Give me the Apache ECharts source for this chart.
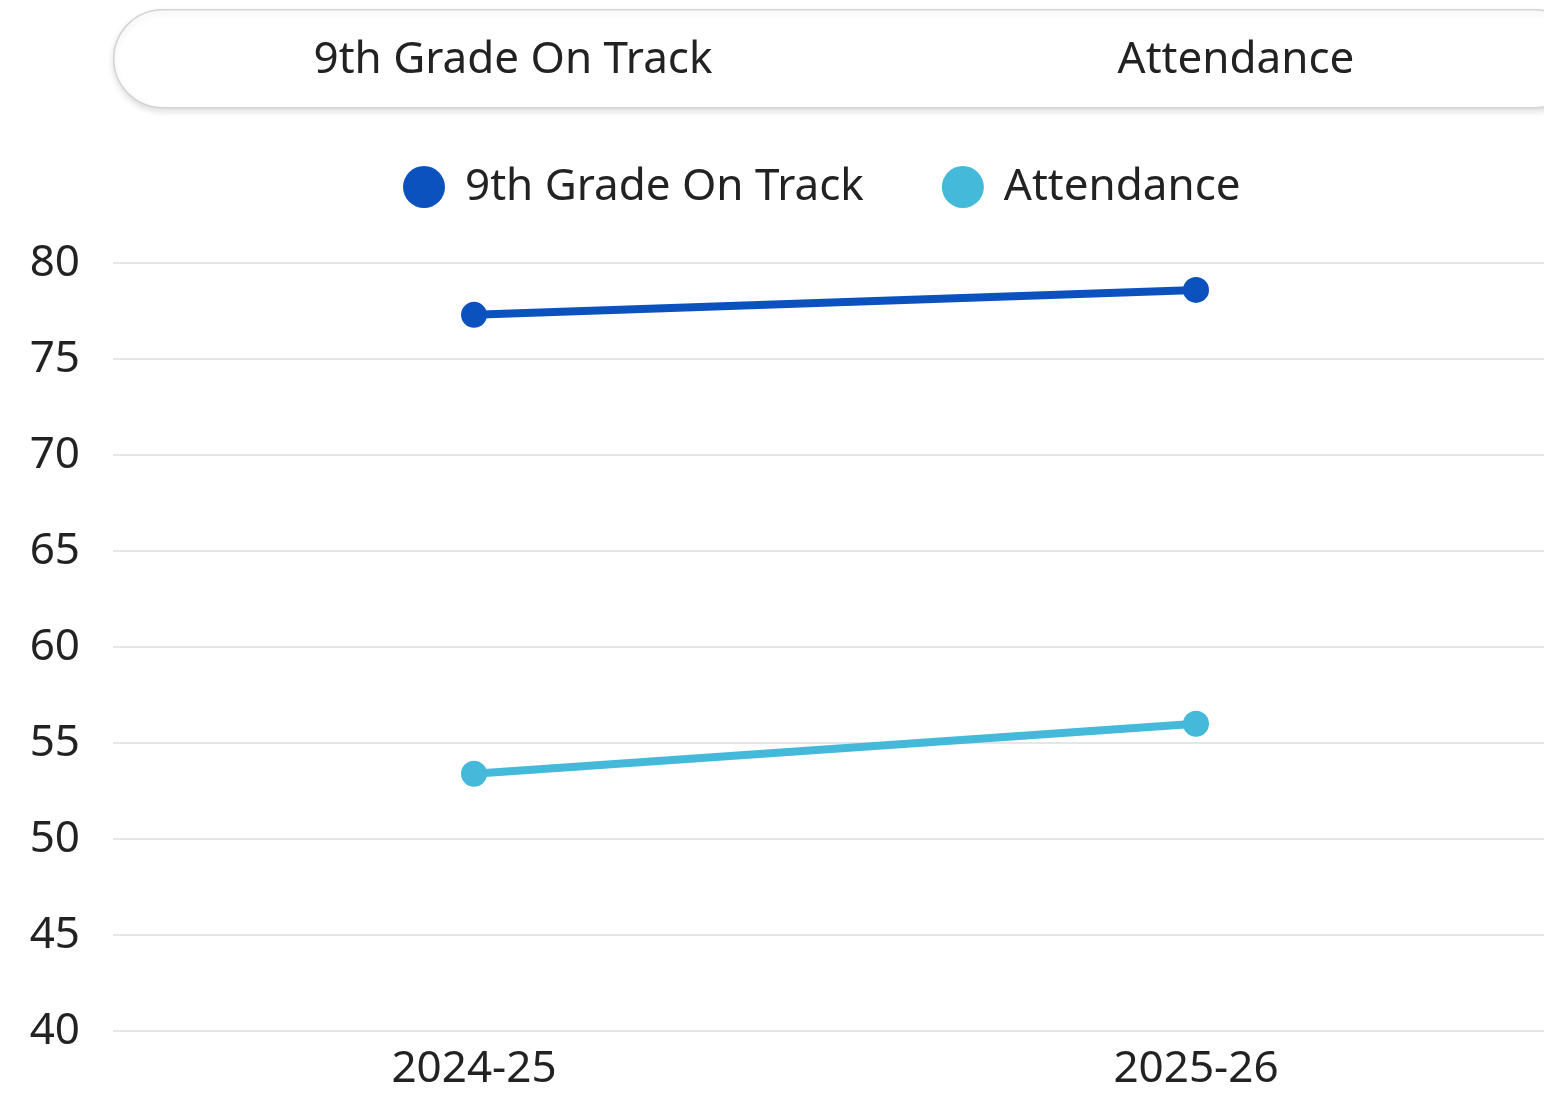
<!DOCTYPE html>
<html>
<head>
<meta charset="utf-8">
<script src="https://cdn.jsdelivr.net/npm/echarts@6/dist/echarts.min.js"></script>
<style>
html,body{margin:0;padding:0;background:#fff;overflow:hidden;width:1544px;height:1093px;}
#c{width:1600px;height:1093px;}
</style>
</head>
<body>
<div id="c"></div>
<script>
const categories = ['2024-25', '2025-26'];
const onTrackValues = [77.3, 78.6];
const attendanceValues = [53.4, 56.0];
const seriesNames = ['9th Grade On Track', 'Attendance'];
const tabLabels = ['9th Grade On Track', 'Attendance'];

const FONT = '"Noto Sans", sans-serif';
const chart = echarts.init(document.getElementById('c'), null, {renderer: 'canvas'});
chart.setOption({
  animation: false,
  backgroundColor: '#fff',
  graphic: [
    {type: 'rect', left: 113, top: 9, shape: {width: 1470, height: 98, r: 49},
     style: {fill: '#fff', stroke: '#d4d4d4', lineWidth: 1.5, shadowBlur: 6, shadowOffsetY: 3, shadowColor: 'rgba(0,0,0,0.12)'}},
    {type: 'text', x: 513, y: 60, style: {text: tabLabels[0], font: '44px ' + FONT, fill: '#222', align: 'center', verticalAlign: 'middle'}},
    {type: 'text', x: 1236, y: 60, style: {text: tabLabels[1], font: '44px ' + FONT, fill: '#222', align: 'center', verticalAlign: 'middle'}}
  ],
  legend: {
    top: 160, left: 398,
    icon: 'circle', itemWidth: 42, itemHeight: 42, itemGap: 78,
    textStyle: {fontFamily: FONT, fontSize: 44, color: '#222', padding: [0, 0, 0, 15]},
    data: seriesNames
  },
  grid: {left: 113, right: 43, top: 263, bottom: 62, containLabel: false},
  xAxis: {
    type: 'category', data: categories, boundaryGap: true,
    axisLine: {show: false}, axisTick: {show: false},
    axisLabel: {fontFamily: FONT, fontSize: 44, color: '#222', margin: 16}
  },
  yAxis: {
    type: 'value', min: 40, max: 80, interval: 5,
    axisLine: {show: false}, axisTick: {show: false},
    axisLabel: {fontFamily: FONT, fontSize: 44, color: '#222', margin: 33},
    splitLine: {lineStyle: {color: '#e6e6e6', width: 2}}
  },
  series: [
    {name: seriesNames[0], type: 'line', data: onTrackValues, symbol: 'circle', symbolSize: 26,
     itemStyle: {color: '#0b52bf'}, lineStyle: {width: 8, color: '#0b52bf'}},
    {name: seriesNames[1], type: 'line', data: attendanceValues, symbol: 'circle', symbolSize: 26,
     itemStyle: {color: '#45b9d9'}, lineStyle: {width: 8, color: '#45b9d9'}}
  ]
});
</script>
</body>
</html>
